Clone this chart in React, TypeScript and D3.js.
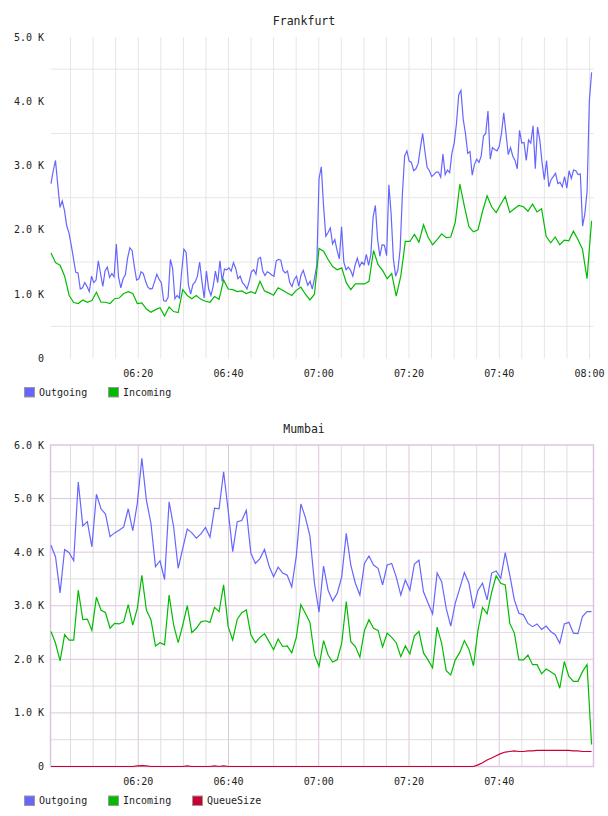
import React from 'react';
import * as d3 from 'd3';

// values in thousands (K)
const frankfurtOutgoing = [
  2.72, 2.92, 3.08, 2.70, 2.35, 2.45, 2.30, 2.06, 1.95, 1.76,
  1.55, 1.34, 1.33, 1.08, 1.10, 1.18, 1.12, 1.04, 1.28, 1.18,
  1.22, 1.52, 1.32, 1.12, 1.36, 1.42, 1.26, 1.32, 1.27, 1.78,
  1.26, 1.10, 1.24, 1.30, 1.56, 1.72, 1.68, 1.43, 1.22, 1.24,
  1.35, 1.32, 1.20, 1.11, 1.08, 1.09, 1.20, 1.31, 1.23, 1.18,
  0.90, 0.89, 0.95, 1.54, 1.40, 0.93, 0.98, 0.94, 1.35, 1.70,
  1.65, 1.15, 1.00, 1.15, 1.19, 1.28, 1.50, 1.20, 0.94, 1.36,
  1.08, 0.98, 1.12, 1.36, 1.18, 1.52, 1.20, 1.39, 1.38, 1.41,
  1.36, 1.49, 1.40, 1.24, 1.28, 1.18, 1.14, 1.08, 1.20, 1.35,
  1.38, 1.31, 1.55, 1.57, 1.36, 1.29, 1.35, 1.33, 1.30, 1.28,
  1.52, 1.54, 1.53, 1.37, 1.33, 1.36, 1.18, 1.12, 1.23, 1.28,
  1.12, 1.30, 1.37, 1.25, 1.14, 1.20, 1.08, 1.25, 1.45, 2.80,
  2.98, 2.37, 1.90, 1.96, 2.03, 1.78, 1.85, 1.68, 1.55, 2.05,
  1.50, 1.38, 1.42, 1.37, 1.28, 1.45, 1.56, 1.43, 1.50, 1.46,
  1.62, 1.45, 1.62, 2.20, 2.38, 1.85, 1.59, 1.77, 1.76, 1.60,
  2.70, 2.25, 1.55, 1.28, 1.38, 1.70, 2.55, 3.15, 3.23, 3.07,
  3.05, 2.92, 2.95, 3.03, 3.28, 3.50, 3.22, 2.97, 2.92, 2.83,
  2.86, 2.90, 2.90, 2.82, 3.18, 2.86, 2.93, 2.89, 3.20, 3.35,
  3.65, 4.10, 4.17, 3.72, 3.50, 3.19, 3.22, 2.85, 3.02, 3.10,
  3.05, 3.15, 3.46, 3.50, 3.85, 3.10, 3.28, 3.25, 3.23, 3.30,
  3.50, 3.82, 3.50, 3.17, 3.28, 3.15, 3.08, 2.95, 3.55, 3.35,
  3.36, 3.08, 3.40, 3.35, 3.62, 2.95, 3.60, 3.40, 3.05, 2.78,
  3.08, 2.67, 2.78, 2.83, 2.88, 2.72, 2.74, 2.67, 2.83, 2.65,
  2.92, 2.80, 2.93, 2.92, 2.86, 2.87, 2.06, 2.25, 2.60, 4.00,
  4.45,
];

const frankfurtIncoming = [
  1.64, 1.49, 1.45, 1.28, 0.98, 0.87, 0.855, 0.91, 0.875, 0.90,
  1.03, 0.875, 0.875, 0.855, 0.93, 0.94, 1.01, 1.04, 1.01, 0.855,
  0.865, 0.77, 0.72, 0.76, 0.79, 0.66, 0.80, 0.73, 0.715, 1.07,
  0.98, 0.93, 0.98, 0.92, 0.89, 0.875, 0.965, 0.92, 1.22, 1.08,
  1.07, 1.04, 1.05, 1.01, 1.04, 1.01, 1.20, 1.05, 1.02, 0.985,
  1.10, 1.06, 1.02, 0.98, 1.06, 1.11, 1.00, 0.91, 1.00, 1.71,
  1.67, 1.54, 1.43, 1.38, 1.41, 1.18, 1.07, 1.16, 1.16, 1.16,
  1.20, 1.68, 1.46, 1.37, 1.24, 1.32, 0.97, 1.28, 1.82, 1.82,
  1.93, 1.81, 2.08, 1.89, 1.77, 1.85, 1.94, 1.88, 1.89, 2.12,
  2.71, 2.37, 2.05, 1.97, 2.00, 2.29, 2.53, 2.36, 2.27, 2.40,
  2.52, 2.27, 2.33, 2.38, 2.36, 2.29, 2.40, 2.28, 2.33, 1.90,
  1.80, 1.89, 1.77, 1.84, 1.83, 1.98, 1.85, 1.70, 1.24, 2.14,
];

const mumbaiOutgoing = [
  4.13, 3.91, 3.24, 4.05, 3.99, 3.84, 5.31, 4.49, 4.57, 4.10,
  5.08, 4.81, 4.71, 4.29, 4.36, 4.41, 4.47, 4.81, 4.40, 4.91,
  5.75, 4.97, 4.54, 3.73, 3.84, 3.49, 4.94, 4.47, 3.70, 4.07,
  4.43, 4.36, 4.26, 4.34, 4.46, 4.28, 4.82, 4.81, 5.50, 4.78,
  4.01, 4.57, 4.59, 4.78, 3.98, 3.79, 3.88, 4.05, 3.74, 3.54,
  3.72, 3.61, 3.57, 3.35, 3.93, 4.90, 4.65, 4.30, 3.42, 2.88,
  3.74, 3.29, 3.09, 3.23, 3.54, 4.35, 3.76, 3.42, 3.20, 3.79,
  3.93, 3.76, 3.70, 3.39, 3.76, 3.79, 3.54, 3.20, 3.48, 3.29,
  3.78, 3.85, 3.26, 3.05, 2.85, 3.61, 3.45, 2.95, 2.62, 3.05,
  3.33, 3.62, 3.42, 2.95, 3.29, 3.42, 3.11, 3.61, 3.65, 3.51,
  3.99, 3.57, 3.11, 2.86, 2.83, 2.67, 2.61, 2.66, 2.56, 2.62,
  2.52, 2.46, 2.30, 2.66, 2.69, 2.49, 2.48, 2.80, 2.89, 2.89,
];

const mumbaiIncoming = [
  2.52, 2.30, 1.97, 2.46, 2.36, 2.36, 3.29, 2.74, 2.75, 2.54,
  3.16, 2.92, 2.87, 2.58, 2.67, 2.66, 2.70, 3.02, 2.64, 2.95,
  3.57, 2.92, 2.74, 2.25, 2.31, 2.27, 3.20, 2.64, 2.31, 2.64,
  3.00, 2.50, 2.58, 2.70, 2.72, 2.69, 2.97, 2.89, 3.39, 2.61,
  2.36, 2.75, 2.87, 2.92, 2.46, 2.31, 2.41, 2.48, 2.33, 2.18,
  2.38, 2.24, 2.25, 2.12, 2.41, 3.02, 2.86, 2.69, 2.08, 1.87,
  2.35, 2.08, 1.95, 1.99, 2.30, 3.08, 2.33, 2.24, 2.04, 2.54,
  2.74, 2.58, 2.54, 2.23, 2.49, 2.41, 2.31, 2.05, 2.25, 2.10,
  2.44, 2.52, 2.12, 1.99, 1.84, 2.60, 2.30, 1.79, 1.71, 1.99,
  2.13, 2.35, 2.19, 1.88, 2.55, 2.97, 2.85, 3.25, 3.56, 3.42,
  3.39, 2.67, 2.49, 1.99, 1.99, 2.08, 1.90, 1.90, 1.73, 1.82,
  1.77, 1.71, 1.46, 1.96, 1.68, 1.59, 1.59, 1.77, 1.90, 0.41,
];

const mumbaiQueue = [
  0, 0, 0, 0, 0, 0, 0, 0, 0, 0,
  0, 0, 0, 0, 0, 0, 0, 0, 0, 0.01,
  0.015, 0.01, 0, 0, 0, 0, 0, 0, 0, 0,
  0.012, 0, 0, 0, 0, 0, 0.01, 0, 0.012, 0,
  0, 0, 0, 0, 0, 0, 0, 0, 0, 0,
  0, 0, 0, 0, 0, 0, 0, 0, 0, 0,
  0, 0, 0, 0, 0, 0, 0, 0, 0, 0,
  0, 0, 0, 0, 0, 0, 0, 0, 0, 0,
  0, 0, 0, 0, 0, 0, 0, 0, 0, 0,
  0, 0, 0, 0, 0.03, 0.07, 0.12, 0.16, 0.20, 0.24,
  0.27, 0.28, 0.29, 0.28, 0.28, 0.29, 0.29, 0.30, 0.30, 0.30,
  0.30, 0.30, 0.30, 0.30, 0.30, 0.29, 0.29, 0.28, 0.28, 0.28,
];

const firstSample = '06:00:40';
const lastDomain = '08:00:40';
const minuteStep = 60.4; // seconds
const halfStep = 29.95;

const COLORS = { out: '#6666ff', inc: '#00bb00', queue: '#cc0033' };
const FONT = '"DejaVu Sans Mono", monospace';

const parseTime = d3.timeParse('%H:%M:%S');
const t0 = parseTime(firstSample)!;
const t1 = parseTime(lastDomain)!;

type Pt = { t: Date; v: number };
const timed = (values: number[], step: number): Pt[] =>
  values.map((v, i) => ({ t: new Date(t0.getTime() + i * step * 1000), v }));

type Series = { name: string; color: string; data: Pt[] };

function Chart({ offset, title, yMax, series, framed }: {
  offset: number; title: string; yMax: number; series: Series[]; framed: boolean;
}) {
  const left = 51, right = 593.5;
  const top = 37 + offset, bottom = 358.5 + offset;

  const x = d3.scaleTime().domain([t0, t1]).range([51, 592.5]);
  const y = d3.scaleLinear().domain([0, yMax]).range([bottom, top]);
  const line = d3.line<Pt>().x(d => x(d.t)).y(d => y(d.v));

  // the framed chart stops just before 08:00, so its last gridline/label is dropped
  const minorTicks = x.ticks(d3.timeMinute.every(5)!).filter(t => x(t) < right - (framed ? 8 : 0));
  const isMajor = (t: Date) => t.getMinutes() % 20 === 0;
  const labelTicks = minorTicks.filter(isMajor);
  const halfSteps = d3.range(0.5, yMax, 0.5);
  const yLabels = d3.range(0, yMax + 0.001, 1);

  const gridGrey = framed ? '#dedede' : '#e6e6e6';
  const gridMajor = '#dcc6de';

  return (
    <g>
      <text x={304} y={25 + offset} textAnchor="middle" fontFamily={FONT} fontSize={11.5} fill="#222">{title}</text>
      {minorTicks.map((t, i) => (
        <line key={'v' + i} x1={x(t)} x2={x(t)} y1={top} y2={bottom}
          stroke={framed && isMajor(t) ? gridMajor : gridGrey} strokeWidth={1} />
      ))}
      {halfSteps
        .filter(v => framed || Math.abs(v % 1 - 0.5) < 0.01)
        .map((v, i) => (
          <line key={'h' + i} x1={left} x2={right} y1={y(v)} y2={y(v)}
            stroke={framed && Math.abs(v % 1) < 0.01 ? gridMajor : gridGrey} strokeWidth={1} />
        ))}
      {framed && (
        <rect x={left - 0.5} y={top} width={right - left + 0.5} height={bottom - top}
          fill="none" stroke={gridMajor} strokeWidth={1.5} />
      )}
      {series.map(s => (
        <path key={s.name} d={line(s.data) ?? ''} fill="none" stroke={s.color} strokeWidth={1.2} />
      ))}
      {yLabels.map(v => (
        <text key={'yl' + v} x={44} y={y(v)} dy="0.35em" textAnchor="end" fontFamily={FONT} fontSize={10} fill="#222">
          {v === 0 ? '0' : v.toFixed(1) + ' K'}
        </text>
      ))}
      {labelTicks.map((t, i) => (
        <text key={'xl' + i} x={x(t)} y={bottom + 18.5} textAnchor="middle" fontFamily={FONT} fontSize={10} fill="#222">
          {d3.timeFormat('%H:%M')(t)}
        </text>
      ))}
      {series.map((s, i) => (
        <g key={'lg' + s.name} transform={`translate(${24 + i * 84},${bottom + 28.5 + (framed ? 0.5 : 0)})`}>
          <rect x={0.5} y={0.5} width={10} height={9.5} fill={s.color} stroke="#999" strokeWidth={1} />
          <text x={15} y={8.5} fontFamily={FONT} fontSize={10} fill="#222">{s.name}</text>
        </g>
      ))}
    </g>
  );
}

export default function App() {
  const frankfurt: Series[] = [
    { name: 'Outgoing', color: COLORS.out, data: timed(frankfurtOutgoing, halfStep) },
    { name: 'Incoming', color: COLORS.inc, data: timed(frankfurtIncoming, minuteStep) },
  ];
  const mumbai: Series[] = [
    { name: 'Outgoing', color: COLORS.out, data: timed(mumbaiOutgoing, minuteStep) },
    { name: 'Incoming', color: COLORS.inc, data: timed(mumbaiIncoming, minuteStep) },
    { name: 'QueueSize', color: COLORS.queue, data: timed(mumbaiQueue, minuteStep) },
  ];
  return (
    <svg width={608} height={816} style={{ position: 'absolute', left: 0, top: 0, background: '#fff' }}>
      <rect width={608} height={816} fill="#fff" />
      <Chart offset={0} title="Frankfurt" yMax={5} series={frankfurt} framed={false} />
      <Chart offset={408} title="Mumbai" yMax={6} series={mumbai} framed={true} />
    </svg>
  );
}
